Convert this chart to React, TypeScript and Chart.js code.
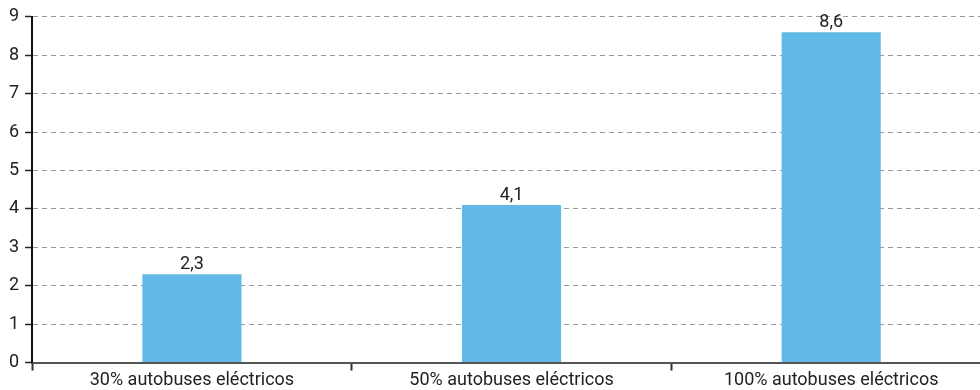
import React, { useEffect, useRef } from "react";
import { Chart, registerables } from "chart.js";

Chart.register(...registerables);

const categories = ["30% autobuses eléctricos", "50% autobuses eléctricos", "100% autobuses eléctricos"];
const values = [2.3, 4.1, 8.6];
const yTicks = [0, 1, 2, 3, 4, 5, 6, 7, 8, 9];

const FONT = "'Roboto', sans-serif";

const labelPlugin = {
  id: "valueLabels",
  afterDatasetsDraw(chart: any) {
    const ctx = chart.ctx;
    const meta = chart.getDatasetMeta(0);
    ctx.save();
    ctx.font = `18px ${FONT}`;
    ctx.fillStyle = "#222";
    ctx.textAlign = "center";
    ctx.textBaseline = "bottom";
    meta.data.forEach((bar: any, i: number) => {
      const v = values[i];
      ctx.fillText(v.toFixed(1).replace(".", ","), bar.x, bar.y - 1);
    });
    ctx.restore();
  },
};

export default function App() {
  const ref = useRef<HTMLCanvasElement>(null);
  useEffect(() => {
    if (!ref.current) return;
    const chart = new Chart(ref.current, {
      type: "bar",
      data: {
        labels: categories,
        datasets: [
          {
            data: values,
            backgroundColor: "#60B9E6",
            barPercentage: 0.31,
            categoryPercentage: 1,
          },
        ],
      },
      options: {
        responsive: false,
        animation: false,
        layout: { padding: { top: 10, right: 2, left: 3, bottom: 0 } },
        plugins: { legend: { display: false }, tooltip: { enabled: false } },
        scales: {
          x: {
            grid: {
              drawOnChartArea: false,
              tickLength: 8,
              tickColor: "#333",
              tickWidth: 2,
              offset: true,
            },
            border: { color: "#555", width: 2 },
            ticks: { color: "#222", font: { family: FONT, size: 18, lineHeight: 1.08 }, padding: 0 },
          },
          y: {
            min: 0,
            max: 9,
            afterBuildTicks: (scale: any) => {
              scale.ticks = yTicks.map((v) => ({ value: v }));
            },
            grid: {
              color: "#999",
              lineWidth: 1,
              tickLength: 7,
              tickColor: "#222",
              tickWidth: 1.5,
              tickBorderDash: [],
            },
            border: { color: "#111", width: 2, dash: [5, 4] },
            ticks: { color: "#222", font: { family: FONT, size: 18 }, padding: 6 },
          },
        },
      },
      plugins: [labelPlugin],
    });
    return () => chart.destroy();
  }, []);
  return (
    <div style={{ position: "absolute", left: 0, top: 0, width: 980, height: 390, overflow: "hidden", background: "#fff" }}>
      <canvas ref={ref} width={993} height={390} style={{ display: "block" }} />
    </div>
  );
}
